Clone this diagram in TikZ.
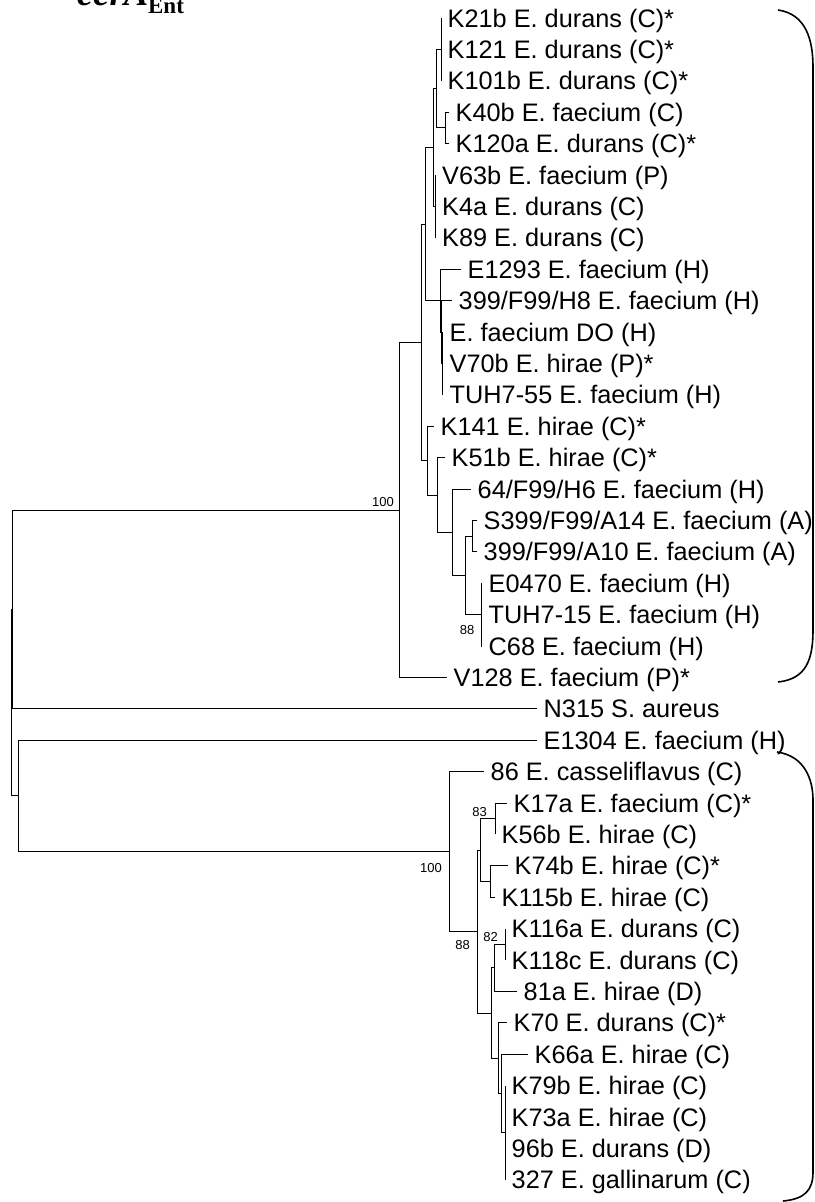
\documentclass[tikz,border=0pt]{standalone}
\usepackage{fontspec}
\setmainfont{Liberation Sans}
\newfontfamily\serifbold{Liberation Serif}
\begin{document}
\begin{tikzpicture}[x=1pt,y=-1pt,
  leaf/.style={anchor=west,inner xsep=6.5pt,inner ysep=0pt,text height=18pt,text depth=0pt,font=\fontsize{25.3}{26}\selectfont},
  boot/.style={inner sep=0pt,font=\fontsize{13}{14}\selectfont},
  br/.style={line width=0.9pt},
  brace/.style={line width=1.6pt}]
\clip (0,0) rectangle (814,1202);
% title
\node[anchor=base west,inner sep=0pt] (title) at (77,5) {\serifbold\fontsize{36.5}{40}\selectfont\bfseries\itshape ccrA\raisebox{-8pt}{\fontsize{23}{25}\selectfont\upshape Ent}};
% leaves
\node[leaf] (l0) at (441,18.0) {K21b E. durans (C)*};
\node[leaf] (l1) at (441,49.4) {K121 E. durans (C)*};
\node[leaf] (l2) at (441,80.8) {K101b E. durans (C)*};
\node[leaf] (l3) at (449,112.2) {K40b E. faecium (C)};
\node[leaf] (l4) at (449,143.6) {K120a E. durans (C)*};
\node[leaf] (l5) at (435.5,175.0) {V63b E. faecium (P)};
\node[leaf] (l6) at (435.5,206.4) {K4a E. durans (C)};
\node[leaf] (l7) at (435.5,237.8) {K89 E. durans (C)};
\node[leaf] (l8) at (461,269.2) {E1293 E. faecium (H)};
\node[leaf] (l9) at (452,300.6) {399/F99/H8 E. faecium (H)};
\node[leaf] (l10) at (443,332.0) {E. faecium DO (H)};
\node[leaf] (l11) at (443,363.4) {V70b E. hirae (P)*};
\node[leaf] (l12) at (443,394.8) {TUH7-55 E. faecium (H)};
\node[leaf] (l13) at (434,426.2) {K141 E. hirae (C)*};
\node[leaf] (l14) at (445,457.6) {K51b E. hirae (C)*};
\node[leaf] (l15) at (471,489.0) {64/F99/H6 E. faecium (H)};
\node[leaf] (l16) at (477,520.4) {S399/F99/A14 E. faecium (A)};
\node[leaf] (l17) at (477,551.8) {399/F99/A10 E. faecium (A)};
\node[leaf] (l18) at (482,583.2) {E0470 E. faecium (H)};
\node[leaf] (l19) at (482,614.6) {TUH7-15 E. faecium (H)};
\node[leaf] (l20) at (482,646.0) {C68 E. faecium (H)};
\node[leaf] (l21) at (447,677.4) {V128 E. faecium (P)*};
\node[leaf] (l22) at (537,708.8) {N315 S. aureus};
\node[leaf] (l23) at (537,740.2) {E1304 E. faecium (H)};
\node[leaf] (l24) at (484,771.6) {86 E. casseliflavus (C)};
\node[leaf] (l25) at (507,803.0) {K17a E. faecium (C)*};
\node[leaf] (l26) at (495,834.4) {K56b E. hirae (C)};
\node[leaf] (l27) at (508,865.8) {K74b E. hirae (C)*};
\node[leaf] (l28) at (495,897.2) {K115b E. hirae (C)};
\node[leaf] (l29) at (505,928.6) {K116a E. durans (C)};
\node[leaf] (l30) at (505,960.0) {K118c E. durans (C)};
\node[leaf] (l31) at (517,991.4) {81a E. hirae (D)};
\node[leaf] (l32) at (507,1022.8) {K70 E. durans (C)*};
\node[leaf] (l33) at (528,1054.2) {K66a E. hirae (C)};
\node[leaf] (l34) at (505,1085.6) {K79b E. hirae (C)};
\node[leaf] (l35) at (505,1117.0) {K73a E. hirae (C)};
\node[leaf] (l36) at (505,1148.4) {96b E. durans (D)};
\node[leaf] (l37) at (505,1179.8) {327 E. gallinarum (C)};
% internal nodes (top clade)
\coordinate (nE) at (441,49.4);
\coordinate (nF) at (445,127.9);
\coordinate (nP) at (436,88.6);
\coordinate (nH) at (435,206.4);
\coordinate (nM) at (433,147.5);
\coordinate (nO2) at (442,363.4);
\coordinate (nO) at (441,332.0);
\coordinate (nN) at (440,300.6);
\coordinate (nJ) at (425,224.0);
\coordinate (nK1) at (472,536.1);
\coordinate (nK2) at (481,614.6);
\coordinate (nK3) at (465,575.4);
\coordinate (nK4) at (452,532.2);
\coordinate (nK5) at (437,495.6);
\coordinate (nK6) at (427,460.9);
\coordinate (nD) at (421.5,342.5);
\coordinate (nT) at (399,510.0);
\coordinate (nA) at (12.7,609.4);
% bottom clade
\coordinate (nU) at (495,818.7);
\coordinate (nV) at (490,881.5);
\coordinate (nT2) at (480,850.1);
\coordinate (nW) at (505,944.3);
\coordinate (nX) at (494,967.9);
\coordinate (nAB) at (505,1132.7);
\coordinate (nAA) at (501,1093.5);
\coordinate (nZ) at (498,1058.1);
\coordinate (nY) at (491,1013.0);
\coordinate (nS) at (477,931.6);
\coordinate (nQ) at (449,851.6);
\coordinate (nC) at (18.3,795.9);
\coordinate (nR) at (11.7,702.6);
% branches
\draw[br] (nE) |- (l0.west) (nE) |- (l1.west) (nE) |- (l2.west);
\draw[br] (nF) |- (l3.west) (nF) |- (l4.west);
\draw[br] (nP) |- (nE) (nP) |- (nF);
\draw[br] (nH) |- (l5.west) (nH) |- (l6.west) (nH) |- (l7.west);
\draw[br] (nM) |- (nP) (nM) |- (nH);
\draw[br] (nO2) |- (l10.west) (nO2) |- (l11.west) (nO2) |- (l12.west);
\draw[br] (nO) |- (l9.west) (nO) |- (nO2);
\draw[br] (nN) |- (l8.west) (nN) |- (nO);
\draw[br] (nJ) |- (nM) (nJ) |- (nN);
\draw[br] (nK1) |- (l16.west) (nK1) |- (l17.west);
\draw[br] (nK2) |- (l18.west) (nK2) |- (l19.west) (nK2) |- (l20.west);
\draw[br] (nK3) |- (nK1) (nK3) |- (nK2);
\draw[br] (nK4) |- (l15.west) (nK4) |- (nK3);
\draw[br] (nK5) |- (l14.west) (nK5) |- (nK4);
\draw[br] (nK6) |- (l13.west) (nK6) |- (nK5);
\draw[br] (nD) |- (nJ) (nD) |- (nK6);
\draw[br] (nT) |- (nD) (nT) |- (l21.west);
\draw[br] (nA) |- (nT) (nA) |- (l22.west);
\draw[br] (nU) |- (l25.west) (nU) |- (l26.west);
\draw[br] (nV) |- (l27.west) (nV) |- (l28.west);
\draw[br] (nT2) |- (nU) (nT2) |- (nV);
\draw[br] (nW) |- (l29.west) (nW) |- (l30.west);
\draw[br] (nX) |- (nW) (nX) |- (l31.west);
\draw[br] (nAB) |- (l34.west) (nAB) |- (l35.west) (nAB) |- (l36.west) (nAB) |- (l37.west);
\draw[br] (nAA) |- (l33.west) (nAA) |- (nAB);
\draw[br] (nZ) |- (l32.west) (nZ) |- (nAA);
\draw[br] (nY) |- (nX) (nY) |- (nZ);
\draw[br] (nS) |- (nT2) (nS) |- (nY);
\draw[br] (nQ) |- (l24.west) (nQ) |- (nS);
\draw[br] (nC) |- (l23.west) (nC) |- (nQ);
\draw[br] (nR) |- (nA) (nR) |- (nC);
% bootstrap values
\node[boot,anchor=east] (b1) at (394,502) {100};
\node[boot] (b2) at (467,630) {88};
\node[boot] (b3) at (479.5,812) {83};
\node[boot] (b4) at (431,868) {100};
\node[boot] (b5) at (490.5,937) {82};
\node[boot] (b6) at (462.5,945) {88};
% brackets
\draw[brace] (778,10) .. controls (806,14) and (813,40) .. (813,67) -- (813,630) .. controls (813,660) and (806,679) .. (778,682);
\draw[brace] (777,752) .. controls (805,756) and (813,780) .. (813,800) -- (813,1172) .. controls (813,1190) and (805,1199) .. (783,1201);
\end{tikzpicture}
\end{document}
